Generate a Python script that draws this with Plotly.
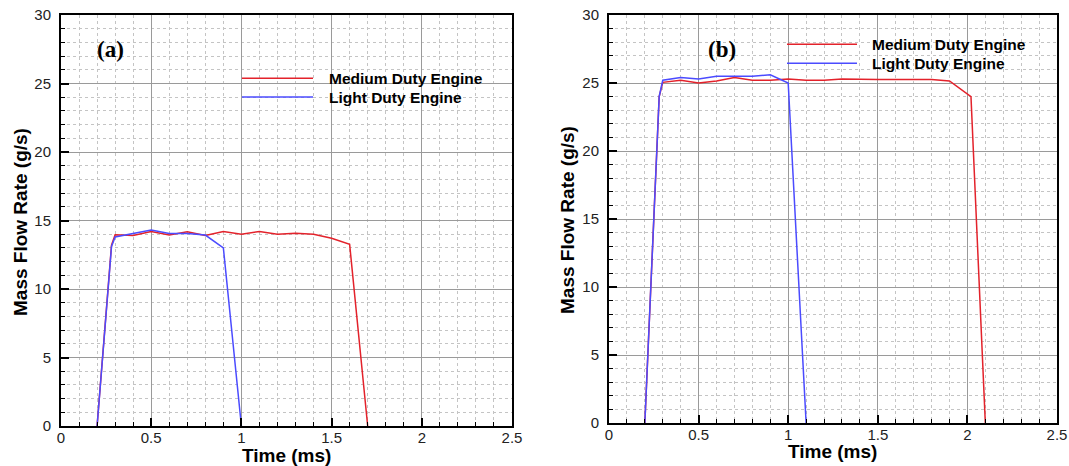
import plotly.graph_objects as go

# ---------------- data ----------------
time_a_medium = [0.2, 0.28, 0.3, 0.4, 0.5, 0.6, 0.7, 0.8, 0.9, 1.0, 1.1, 1.2, 1.3, 1.4, 1.5, 1.6, 1.7]
flow_a_medium = [0.0, 13.2, 13.96, 13.9, 14.2, 13.94, 14.18, 13.9, 14.2, 14.0, 14.2, 14.0, 14.07, 14.0, 13.7, 13.26, 0.0]
time_a_light = [0.2, 0.28, 0.3, 0.4, 0.5, 0.6, 0.7, 0.8, 0.9, 1.0]
flow_a_light = [0.0, 13.1, 13.8, 14.05, 14.3, 14.06, 14.05, 13.94, 13.0, 0.0]

time_b_medium = [0.2, 0.28, 0.3, 0.4, 0.5, 0.6, 0.7, 0.8, 0.9, 1.0, 1.1, 1.2, 1.3, 1.4, 1.5, 1.6, 1.7, 1.8, 1.9, 2.02, 2.1]
flow_b_medium = [0.0, 24.0, 25.05, 25.2, 25.0, 25.15, 25.4, 25.2, 25.2, 25.3, 25.2, 25.2, 25.3, 25.25, 25.25, 25.25, 25.25, 25.25, 25.15, 24.0, 0.0]
time_b_light = [0.2, 0.28, 0.3, 0.4, 0.5, 0.6, 0.7, 0.8, 0.9, 1.0, 1.1]
flow_b_light = [0.0, 24.0, 25.2, 25.4, 25.3, 25.5, 25.5, 25.5, 25.6, 25.0, 0.0]

series_names = ["Medium Duty Engine", "Light Duty Engine"]
panel_labels = ["(a)", "(b)"]
x_title = "Time (ms)"
y_title = "Mass Flow Rate (g/s)"

# ---------------- layout helpers ----------------
W, H = 1069, 466
RED = "#e3222b"
BLUE = "#4b4bff"


def px(x):
    return x / W


def py(y):
    return 1 - y / H


fig = go.Figure()

fig.add_trace(go.Scatter(x=time_a_medium, y=flow_a_medium, mode="lines", name=series_names[0],
                         line=dict(color=RED, width=1.5), xaxis="x", yaxis="y", showlegend=False))
fig.add_trace(go.Scatter(x=time_a_light, y=flow_a_light, mode="lines", name=series_names[1],
                         line=dict(color=BLUE, width=1.5), xaxis="x", yaxis="y", showlegend=False))
fig.add_trace(go.Scatter(x=time_b_medium, y=flow_b_medium, mode="lines", name=series_names[0],
                         line=dict(color=RED, width=1.5), xaxis="x2", yaxis="y2", showlegend=False))
fig.add_trace(go.Scatter(x=time_b_light, y=flow_b_light, mode="lines", name=series_names[1],
                         line=dict(color=BLUE, width=1.5), xaxis="x2", yaxis="y2", showlegend=False))

tick_font = dict(family="Liberation Sans, Arial, sans-serif", size=15, color="#222")


def axis(domain, rng, dtick, minor_dtick, anchor):
    return dict(
        domain=domain, range=rng, dtick=dtick, tick0=0, anchor=anchor,
        showline=True, linecolor="black", linewidth=2, mirror=True,
        ticks="inside", ticklen=8, tickwidth=2, tickcolor="black",
        showgrid=True, gridcolor="#9a9a9a", gridwidth=1, zeroline=False,
        minor=dict(dtick=minor_dtick, showgrid=True, gridcolor="#c4c4c4", griddash="dot",
                   gridwidth=1, ticks="inside", ticklen=4, tickwidth=1, tickcolor="black"),
        tickfont=tick_font, fixedrange=True, automargin=False,
    )


# panel a: plot area px x 61-512, y 15-426 ; panel b: x 609-1057, y 15-423
fig.update_layout(
    width=W, height=H, margin=dict(l=0, r=0, t=0, b=0, autoexpand=False),
    paper_bgcolor="white", plot_bgcolor="white",
    xaxis=axis([px(61), px(512)], [0, 2.5], 0.5, 0.1, "y"),
    yaxis=axis([py(426), py(15)], [0, 30], 5, 1, "x"),
    xaxis2=axis([px(609), px(1057)], [0, 2.5], 0.5, 0.1, "y2"),
    yaxis2=axis([py(423), py(15)], [0, 30], 5, 1, "x2"),
)
fig.layout.yaxis.ticklabelstandoff = 5
fig.layout.yaxis2.ticklabelstandoff = 5
fig.layout.xaxis.ticklabelstandoff = -3
fig.layout.xaxis2.ticklabelstandoff = -3

title_font = dict(family="Liberation Sans, Arial, sans-serif", size=19, color="black")
legend_font = dict(family="Liberation Sans, Arial, sans-serif", size=15.5, color="black")
label_font = dict(family="Liberation Serif, Times New Roman, serif", size=23, color="black")

annotations = []
shapes = []

# axis titles
for xc, yc in [(20, 222), (567, 220)]:
    annotations.append(dict(x=px(xc), y=py(yc), xref="paper", yref="paper", text="<b>%s</b>" % y_title,
                            textangle=-90, showarrow=False, font=title_font,
                            xanchor="center", yanchor="middle"))
for xc, yc in [(286, 455), (832, 451)]:
    annotations.append(dict(x=px(xc), y=py(yc), xref="paper", yref="paper", text="<b>%s</b>" % x_title,
                            showarrow=False, font=title_font, xanchor="center", yanchor="middle"))

# panel labels
for lbl, (xc, yc) in zip(panel_labels, [(110, 49), (722, 50)]):
    annotations.append(dict(x=px(xc), y=py(yc), xref="paper", yref="paper", text="<b>%s</b>" % lbl,
                            showarrow=False, font=label_font, xanchor="center", yanchor="middle"))

# custom legends
legend_specs = [
    (242, 313, 327, [78.3, 97]),
    (787, 857, 870, [44.3, 63.3]),
]
for x0, x1, xt, ys in legend_specs:
    for name, color, yy in zip(series_names, [RED, BLUE], ys):
        shapes.append(dict(type="line", xref="paper", yref="paper", x0=px(x0), x1=px(x1),
                           y0=py(yy), y1=py(yy), line=dict(color=color, width=1.5)))
        annotations.append(dict(x=px(xt), y=py(yy), xref="paper", yref="paper", text="<b>%s</b>" % name,
                                showarrow=False, font=legend_font, xanchor="left", yanchor="middle"))

fig.update_layout(annotations=annotations, shapes=shapes)

fig.write_html("out.html")
